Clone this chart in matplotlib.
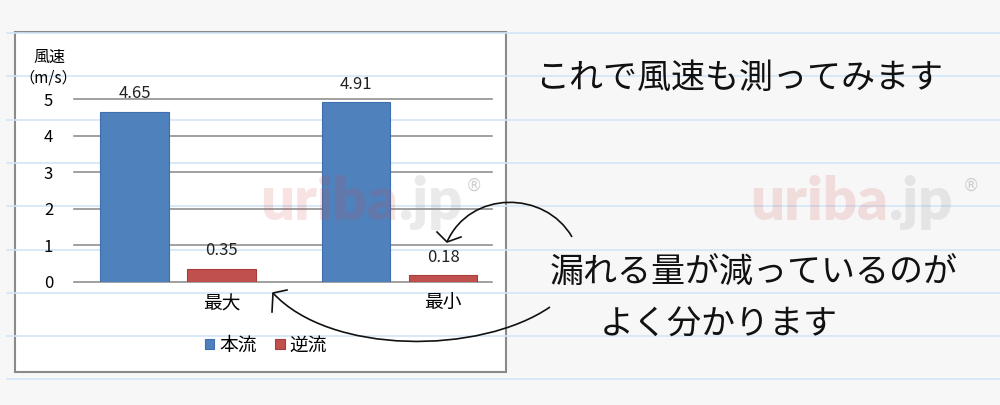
import numpy as np
import matplotlib
matplotlib.use("Agg")
import matplotlib.pyplot as plt
from matplotlib.path import Path
from matplotlib.patches import PathPatch, Rectangle

plt.rcParams["font.family"] = ["Noto Sans CJK JP", "DejaVu Sans"]

# chart data
categories = ["最大", "最小"]
series_names = ["本流", "逆流"]
forward = [4.65, 4.91]
backward = [0.35, 0.18]
y_ticks = [0, 1, 2, 3, 4, 5]

# notes written beside the chart
note_top = "これで風速も測ってみます"
note_lines = ["漏れる量が減っているのが", "よく分かります"]

BLUE = "#4f81bd"
RED = "#c0504d"
GRID = "#868686"

W, H = 1000, 405
fig = plt.figure(figsize=(W / 100, H / 100), dpi=100)
fig.patch.set_facecolor("#f7f7f7")

# paper background with ruled lines and the chart frame
bg = fig.add_axes([0, 0, 1, 1], zorder=0)
bg.set_xlim(0, W)
bg.set_ylim(H, 0)
bg.axis("off")
for y in np.arange(33, 382, 43.3):
    bg.plot([7, W], [y, y], color="#d3e5f6", lw=1.2)
bg.add_patch(Rectangle((15, 32), 491, 340, facecolor="white",
                       edgecolor="#8a8a8a", lw=1.5))

# the bar chart itself
ax = fig.add_axes([74 / W, 1 - 282 / H, 418 / W, 183 / H], zorder=1)
ax.set_facecolor("none")
x = np.arange(len(categories))
width = 0.31
shift = 0.1965
b1 = ax.bar(x - shift, forward, width, color=BLUE, edgecolor="#3d6fae",
            lw=0.8, label=series_names[0])
b2 = ax.bar(x + shift, backward, width, color=RED, edgecolor="#a83e3b",
            lw=0.8, label=series_names[1])
for c in (b1, b2):
    ax.bar_label(c, fmt="%.2f", padding=7, fontsize=12, color="#222222")

ax.set_xlim(-0.4695, 1.4176)
ax.set_ylim(0, 5)
ax.set_yticks(y_ticks)
ax.set_xticks(x + shift)
ax.set_xticklabels(categories, fontsize=13.5)
ax.tick_params(axis="y", length=0, pad=15, labelsize=12)
ax.tick_params(axis="x", length=0, pad=8)
for s in ax.spines.values():
    s.set_visible(False)
ax.yaxis.grid(True, color=GRID, lw=1.1)
ax.set_axisbelow(True)
for gl in ax.get_ygridlines():
    gl.set_clip_on(False)

ax.legend(loc="center", bbox_to_anchor=(266 / W, 1 - 345 / H),
          bbox_transform=fig.transFigure, ncol=2, frameon=False,
          handlelength=0.5, handleheight=0.5, handletextpad=0.25,
          columnspacing=1.0, fontsize=13.5)

fig.text(49 / W, 1 - 57 / H, "風速", ha="center", va="center", fontsize=11.5)
fig.text(48 / W, 1 - 78 / H, "（m/s）", ha="center", va="center", fontsize=11)

# overlay: watermarks, notes, arrows
ov = fig.add_axes([0, 0, 1, 1], zorder=2)
ov.set_xlim(0, W)
ov.set_ylim(H, 0)
ov.axis("off")
ov.set_facecolor("none")

for split, left in [(398, 474), (888, 971)]:
    ov.text(split, 220, "uriba", ha="right", va="baseline", fontsize=43,
            family="Lato", weight="heavy", color="#d04848", alpha=0.15)
    ov.text(split, 220, ".jp", ha="left", va="baseline", fontsize=43,
            family="Lato", weight="heavy", color="#909090", alpha=0.18)
    ov.text(left, 186, "®", ha="center", va="center", fontsize=12,
            family="DejaVu Sans", color="#cfcfcf")

ov.text(535, 78, note_top, ha="left", va="center", fontsize=24.5,
        color="#111111")
ov.text(550, 273, note_lines[0], ha="left", va="center", fontsize=24.5,
        color="#111111")
ov.text(600, 325, note_lines[1], ha="left", va="center", fontsize=24.5,
        color="#111111")

curves = [
    [(572, 237), (545, 190), (470, 190), (447, 242)],
    [(550, 307), (480, 355), (330, 355), (273, 293)],
]
heads = [
    [(437, 232), (447, 242), (461, 237)],
    [(287, 290), (273, 293), (272, 312)],
]
for pts, hd in zip(curves, heads):
    path = Path(pts, [Path.MOVETO, Path.CURVE4, Path.CURVE4, Path.CURVE4])
    ov.add_patch(PathPatch(path, facecolor="none", edgecolor="#111111", lw=1.2))
    hx, hy = zip(*hd)
    ov.plot(hx, hy, color="#111111", lw=1.2)

fig.savefig("out.png", dpi=100, facecolor=fig.get_facecolor())
